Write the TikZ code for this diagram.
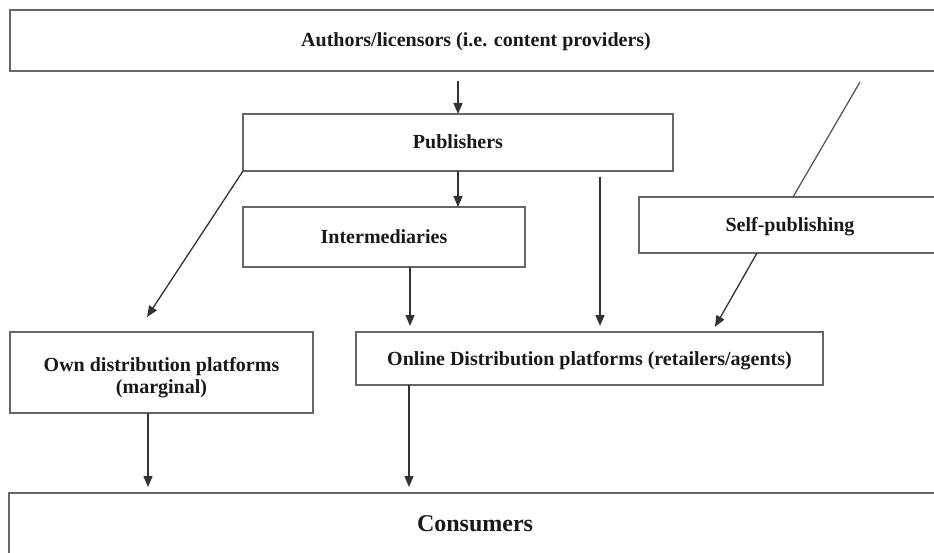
\documentclass[tikz,border=0pt]{standalone}
\usepackage{fontspec}
\setmainfont{Liberation Serif}
\usetikzlibrary{calc,arrows.meta}

\begin{document}
\begin{tikzpicture}[x=1pt,y=-1pt]
  % Estilos para las cajas y los conectores
  \tikzstyle{stagebox} = [draw=black!60, line width=2pt, fill=white, text=black!90, font=\bfseries\fontsize{20}{22}\selectfont, align=center, inner sep=0pt, outer sep=0pt, text height=15pt, text depth=2pt];
  \tikzstyle{flowarrow} = [draw=black!80, line width=1.3pt, -{Triangle[length=11pt,width=9pt]}];
  \tikzstyle{plainline} = [draw=black!65, line width=1.3pt];

  \useasboundingbox (0,0) rectangle (934,553);

  % Cajas de la cadena
  \node [stagebox, minimum width=932pt, minimum height=61pt] (authors) at (476,40.5) {Authors/licensors (i.e. content providers)};
  \node [stagebox, minimum width=430pt, minimum height=57pt] (publishers) at (458,142.5) {Publishers};
  \node [stagebox, minimum width=282pt, minimum height=60pt] (intermediaries) at (384,237) {Intermediaries};
  \node [stagebox, minimum width=302pt, minimum height=56pt] (selfpub) at (790,225) {Self-publishing};
  \node [stagebox, minimum width=303pt, minimum height=81pt, text height=, text depth=] (own) at (161.5,372.5) {\rule{0pt}{24pt}Own distribution platforms\\(marginal)};
  \node [stagebox, minimum width=467pt, minimum height=53pt] (online) at (589.5,358.5) {Online Distribution platforms (retailers/agents)};
  \node [stagebox, minimum width=932pt, minimum height=64pt, font=\bfseries\fontsize{24}{26}\selectfont] (consumers) at (475,525) {Consumers};

  % Flechas entre cajas
  \draw [flowarrow, shorten <=10pt] (authors.south -| publishers.north) -- (publishers.north);
  \draw [flowarrow] (publishers.south) -- (intermediaries.north -| publishers.south);
  \draw [flowarrow] (publishers.south west) -- ($(own.north west)+(137,-15)$);
  \draw [flowarrow, shorten <=6pt, shorten >=6pt] ($(publishers.south east)+(-73,0)$) -- ($(online.north west)+(244,0)$);
  \draw [flowarrow, shorten >=6pt] ($(intermediaries.south)+(26,0)$) -- ($(online.north west)+(54,0)$);

  % Autopublicacion: la linea cruza la caja
  \draw [plainline] ($(authors.south east)+(-82,11)$) -- ($(selfpub.north west)+(154,0)$);
  \draw [flowarrow, shorten >=6pt] ($(selfpub.south west)+(118,0)$) -- ($(online.north east)+(-111,0)$);

  % Hacia los consumidores
  \draw [flowarrow, shorten >=6pt] ($(own.south west)+(138,0)$) -- ($(consumers.north west)+(139,0)$);
  \draw [flowarrow, shorten >=6pt] ($(online.south west)+(53,0)$) -- ($(consumers.north west)+(400,0)$);
\end{tikzpicture}
\end{document}
